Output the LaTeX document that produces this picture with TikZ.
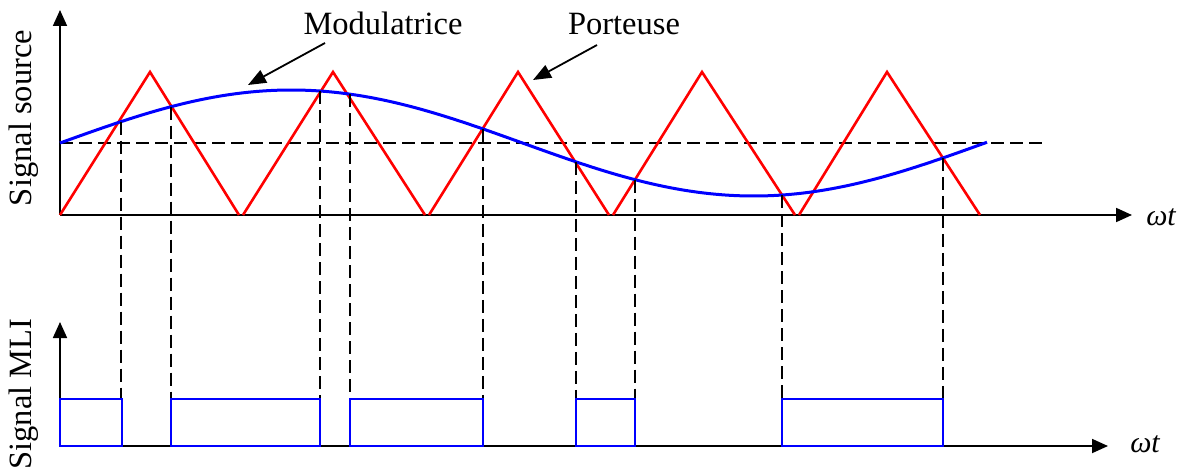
\documentclass[tikz,border=0pt]{standalone}
\usepackage{fontspec}
\setmainfont{Liberation Serif}
\usetikzlibrary{arrows.meta}
\begin{document}
\begin{tikzpicture}[x=1pt,y=-1pt,
  axis/.style={line width=1.8pt,-{Triangle[length=16pt,width=14pt]}},
  carrier/.style={red,line width=2.6pt,line join=miter},
  modul/.style={blue,line width=3pt},
  guide/.style={line width=2.6pt,dash pattern=on 13pt off 6pt},
  pulse/.style={blue,line width=2.8pt},
  lbl/.style={font=\fontsize{32.5}{36}\selectfont,inner sep=0pt},
  wlbl/.style={font=\fontsize{30}{34}\selectfont\itshape,inner sep=0pt,anchor=base},
  callout/.style={line width=1.8pt,-{Triangle[length=18pt,width=14pt]}}]
\useasboundingbox (0,0) rectangle (1185,473);
% axes
\coordinate (O1) at (60,215);
\coordinate (Y1) at (60,10);
\coordinate (X1) at (1132,215);
\coordinate (O2) at (60,446);
\coordinate (Y2) at (60,322);
\coordinate (X2) at (1108,446);
\draw[axis] (O1) -- (Y1);
\draw[axis] (O1) -- (X1);
\draw[axis] (O2) -- (Y2);
\draw[axis] (O2) -- (X2);
% reference level
\coordinate (L0) at (60,143);
\coordinate (L1) at (1047,143);
\draw[guide] (L0) -- (L1);
% carrier
\draw[carrier] (60,215) -- (150,72) -- (239,215);
\draw[carrier] (243,215) -- (333,72) -- (425,215);
\draw[carrier] (429,215) -- (518,72) -- (609,215);
\draw[carrier] (613,215) -- (702,72) -- (795,215);
\draw[carrier] (799,215) -- (887,72) -- (980,215);
% modulating signal
\draw[modul] plot[domain=60:987,samples=150,smooth] (\x,{143-53*sin(0.389189*(\x-60))});
% vertical guides
\foreach \t in {121,171,320,350,483,576,635,782,943}
  \draw[guide] (\t,{143-53*sin(0.389189*(\t-60))}) -- (\t,399);
% PWM pulses
\draw[pulse] (60,446) rectangle (122,399);
\draw[pulse] (171,446) rectangle (320,399);
\draw[pulse] (350,446) rectangle (483,399);
\draw[pulse] (576,446) rectangle (635,399);
\draw[pulse] (782,446) rectangle (943,399);
% labels
\node[lbl,rotate=90] (src) at (24,118) {Signal source};
\node[lbl,rotate=90] (mli) at (24,394) {Signal MLI};
\node[lbl,anchor=base] (mod) at (383,35) {Modulatrice};
\node[lbl,anchor=base] (port) at (624,35) {Porteuse};
\node[wlbl] (wt1) at (1161,225) {ωt};
\node[wlbl] (wt2) at (1145,452) {ωt};
% callouts
\coordinate (modfrom) at (325,43);
\coordinate (modtip) at (248,85);
\coordinate (portfrom) at (597,45);
\coordinate (porttip) at (533,80);
\draw[callout] (modfrom) -- (modtip);
\draw[callout] (portfrom) -- (porttip);
\end{tikzpicture}
\end{document}
